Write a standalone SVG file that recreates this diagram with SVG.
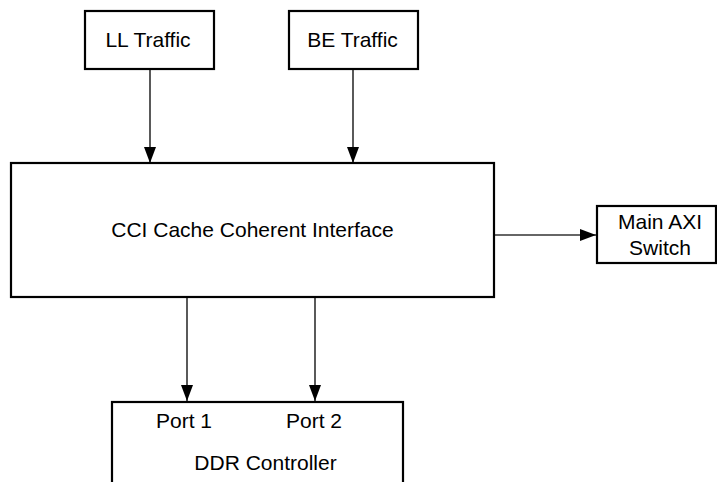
<svg xmlns="http://www.w3.org/2000/svg" width="717" height="482" viewBox="0 0 717 482">
<defs>
<marker id="arr" viewBox="0 0 16 12" markerWidth="16" markerHeight="12" refX="16" refY="6" orient="auto" markerUnits="userSpaceOnUse">
<path d="M0,0 L16,6 L0,12 Z" fill="#000"/>
</marker>
<style>
.box{fill:#fff;stroke:#000;stroke-width:2.2}
.lbl{font-family:"Liberation Sans",Arial,sans-serif;font-size:21px;fill:#000;text-anchor:middle}
.con{fill:none;stroke:#000;stroke-width:1.3;marker-end:url(#arr)}
</style>
</defs>
<rect width="717" height="482" fill="#fff"/>
<g id="connectors">
<path class="con" d="M150,69 L150,163"/>
<path class="con" d="M353,69 L353,163"/>
<path class="con" d="M494,235 L596,235" style="stroke:#333"/>
<path class="con" d="M187,297 L187,401"/>
<path class="con" d="M315,297 L315,401"/>
</g>
<g id="ll-traffic">
<rect class="box" x="85" y="11" width="129" height="58"/>
<text class="lbl" x="148" y="47">LL Traffic</text>
</g>
<g id="be-traffic">
<rect class="box" x="289" y="11" width="129" height="58"/>
<text class="lbl" x="352.5" y="47">BE Traffic</text>
</g>
<g id="cci">
<rect class="box" x="11" y="163" width="483" height="134"/>
<text class="lbl" x="252.5" y="237">CCI Cache Coherent Interface</text>
</g>
<g id="main-axi">
<rect class="box" x="597" y="206" width="119" height="57"/>
<text class="lbl" x="660" y="229">Main AXI</text>
<text class="lbl" x="660" y="255">Switch</text>
</g>
<g id="ddr">
<rect class="box" x="112" y="402" width="291" height="100"/>
<text class="lbl" x="184" y="428">Port 1</text>
<text class="lbl" x="314" y="428">Port 2</text>
<text class="lbl" x="265.5" y="470">DDR Controller</text>
</g>
</svg>
